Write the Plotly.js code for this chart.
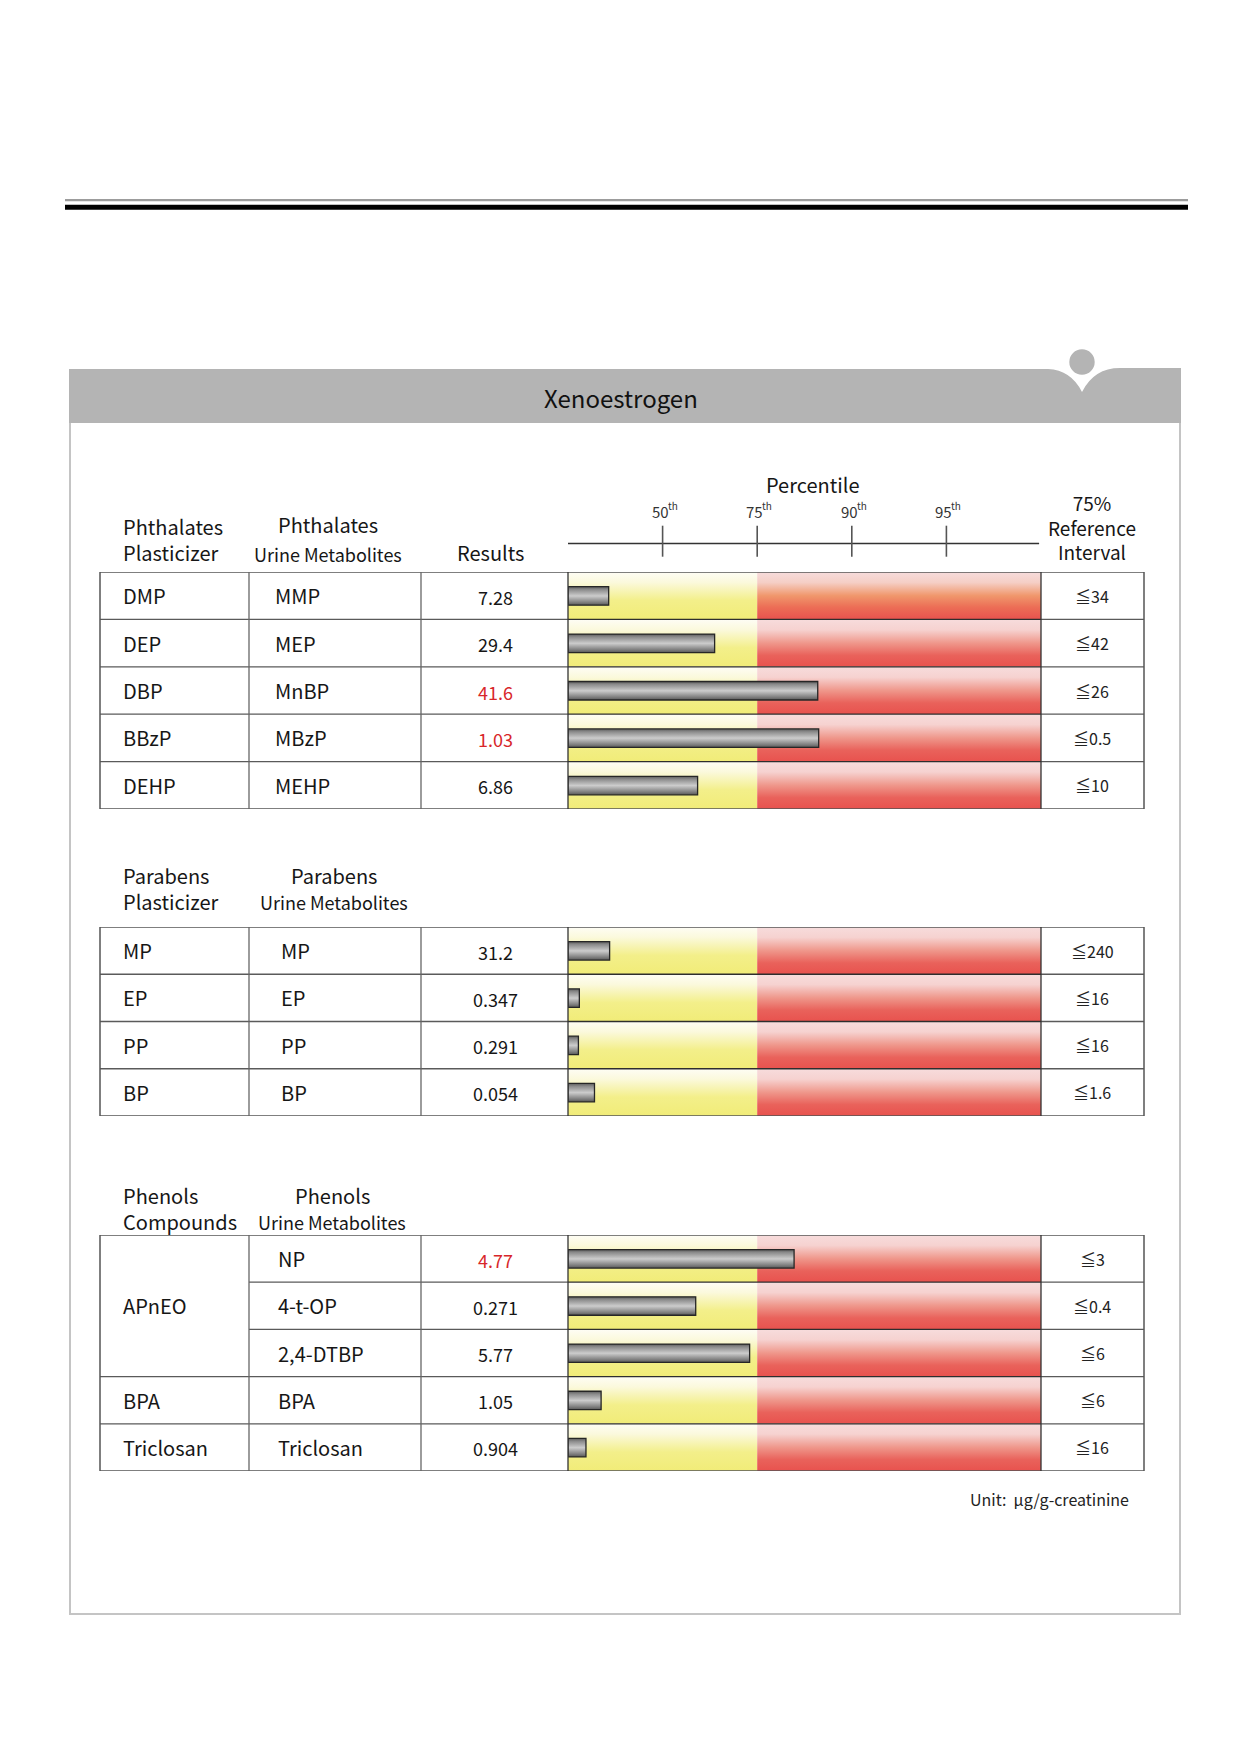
<!DOCTYPE html>
<html>
<head>
<meta charset="utf-8">
<script src="https://cdn.plot.ly/plotly-3.0.1.min.js"></script>
<style>html,body{margin:0;padding:0;background:#fff}#chart{width:1241px;height:1755px}</style>
</head>
<body>
<div id="chart"></div>
<script>
// ================= DATA =================
const chartTitle = 'Xenoestrogen';
const unitText = 'Unit:  μg/g-creatinine';
const percentileTitle = 'Percentile';
const percentileTickVals = [1, 2, 3, 4];
const percentileTickText = ['50', '75', '90', '95'];
const percentileSuffix = 'th';
const zoneEdges = [0, 2, 5];            // yellow below 75th, red from 75th
const refHeader = '75%<br>Reference<br>Interval';
const resultsHeader = 'Results';

// Phthalates
const phthParentHeader = 'Phthalates<br>Plasticizer';
const phthMetabHeader = ['Phthalates', 'Urine Metabolites'];
const phthParents = ['DMP', 'DEP', 'DBP', 'BBzP', 'DEHP'];
const phthMetabolites = ['MMP', 'MEP', 'MnBP', 'MBzP', 'MEHP'];
const phthResults = [7.28, 29.4, 41.6, 1.03, 6.86];
const phthRefs = [34, 42, 26, 0.5, 10];
const phthScores = [0.43, 1.55, 2.64, 2.65, 1.37];

// Parabens
const parabParentHeader = 'Parabens<br>Plasticizer';
const parabMetabHeader = ['Parabens', 'Urine Metabolites'];
const parabParents = ['MP', 'EP', 'PP', 'BP'];
const parabMetabolites = ['MP', 'EP', 'PP', 'BP'];
const parabResults = [31.2, 0.347, 0.291, 0.054];
const parabRefs = [240, 16, 16, 1.6];
const parabScores = [0.44, 0.12, 0.11, 0.28];

// Phenols
const phenParentHeader = 'Phenols<br>Compounds';
const phenMetabHeader = ['Phenols', 'Urine Metabolites'];
const phenParents = ['APnEO', 'APnEO', 'APnEO', 'BPA', 'Triclosan'];
const phenMetabolites = ['NP', '4-t-OP', '2,4-DTBP', 'BPA', 'Triclosan'];
const phenResults = [4.77, 0.271, 5.77, 1.05, 0.904];
const phenRefs = [3, 0.4, 6, 6, 16];
const phenScores = [2.39, 1.35, 1.92, 0.35, 0.19];

// ================= LAYOUT HELPERS =================
const W = 1241, H = 1755;
const X = px => px / W;
const Y = py => 1 - py / H;
const FONT = '"Noto Sans CJK KR", "Noto Sans", sans-serif';
const TXT = '#161616';
const colEdges = [100, 249, 421, 568, 1041, 1144];

const yellowScale = [[0, '#fefdf5'], [0.22, '#fbf9dc'], [0.6, '#f3ef8a'], [1, '#f1ec78']];
const redScale = [[0, '#f7dcdc'], [0.22, '#f6d2d0'], [0.5, '#ef978b'], [0.76, '#e9625b'], [1, '#e8524e']];
const redScaleWarm = [[0, '#f7dcdc'], [0.22, '#f5cfc6'], [0.5, '#f0976c'], [0.74, '#ec6e56'], [1, '#e8524e']];
const barScale = [[0, '#5c5c5c'], [0.15, '#8a8a8a'], [0.5, '#cccccc'], [0.85, '#7e7e7e'], [1, '#585858']];

const tables = [
  {ax: 'y', axKey: 'yaxis', top: 572, bottom: 809, metX: 273,
   parents: phthParents, metabs: phthMetabolites, results: phthResults, refs: phthRefs, scores: phthScores,
   pHead: phthParentHeader, pHeadY: 539, mHead: phthMetabHeader, mHeadX: 328, mHeadY: [524, 554], resHeadY: 552, warmFirst: true},
  {ax: 'y2', axKey: 'yaxis2', top: 927, bottom: 1116, metX: 279,
   parents: parabParents, metabs: parabMetabolites, results: parabResults, refs: parabRefs, scores: parabScores,
   pHead: parabParentHeader, pHeadY: 888, mHead: parabMetabHeader, mHeadX: 334, mHeadY: [875, 902]},
  {ax: 'y3', axKey: 'yaxis3', top: 1235, bottom: 1471, metX: 276,
   parents: phenParents, metabs: phenMetabolites, results: phenResults, refs: phenRefs, scores: phenScores,
   pHead: phenParentHeader, pHeadY: 1208, mHead: phenMetabHeader, mHeadX: 332, mHeadY: [1195, 1222]}
];

const traces = [];
const shapes = [];
const annotations = [];
const layout = {
  width: W, height: H, margin: {l: 0, r: 0, t: 0, b: 0},
  paper_bgcolor: '#ffffff', plot_bgcolor: 'rgba(0,0,0,0)', showlegend: false,
  font: {family: FONT, color: TXT},
  xaxis: {domain: [X(568), X(1041)], range: [0, 5], visible: false, fixedrange: true}
};

function ann(o) {
  annotations.push(Object.assign({showarrow: false, xref: 'paper', yref: 'paper', xanchor: 'center', yanchor: 'middle'}, o,
    {font: Object.assign({family: FONT, color: TXT}, o.font || {})}));
}
function hline(x0, x1, y, yref, color, width) {
  shapes.push({type: 'line', xref: 'paper', yref: yref, x0: X(x0), x1: X(x1), y0: y, y1: y,
    line: {color: color, width: width}});
}

// ---- top double rule ----
shapes.push({type: 'line', xref: 'paper', yref: 'paper', x0: X(65), x1: X(1188), y0: Y(200.2), y1: Y(200.2), line: {color: '#9c9c9c', width: 2.2}});
shapes.push({type: 'line', xref: 'paper', yref: 'paper', x0: X(65), x1: X(1188), y0: Y(207.3), y1: Y(207.3), line: {color: '#000000', width: 5}});

// ---- panel ----
const P = (x, y) => X(x).toFixed(5) + ',' + Y(y).toFixed(5);
shapes.push({type: 'path', xref: 'paper', yref: 'paper', layer: 'below',
  path: 'M' + P(69, 369) + ' L' + P(1048, 369) + ' Q' + P(1071, 370) + ' ' + P(1082, 392) +
        ' Q' + P(1094, 368) + ' ' + P(1120, 368) + ' L' + P(1181, 368) + ' L' + P(1181, 423) + ' L' + P(69, 423) + ' Z',
  fillcolor: '#b4b4b4', line: {width: 0}});
shapes.push({type: 'circle', xref: 'paper', yref: 'paper', layer: 'below',
  x0: X(1082 - 12.7), x1: X(1082 + 12.7), y0: Y(362 - 12.7), y1: Y(362 + 12.7), fillcolor: '#b4b4b4', line: {width: 0}});
shapes.push({type: 'path', xref: 'paper', yref: 'paper', layer: 'below',
  path: 'M' + P(70, 423) + ' L' + P(70, 1614) + ' L' + P(1180, 1614) + ' L' + P(1180, 423),
  line: {color: '#c4c4c4', width: 2}});
ann({x: X(621), y: Y(397), text: chartTitle, font: {size: 24, color: '#111'}});

// ---- percentile axis ----
const axisY = 543.5;
shapes.push({type: 'line', xref: 'x', yref: 'paper', x0: zoneEdges[0], x1: zoneEdges[zoneEdges.length - 1] - 0.02,
  y0: Y(axisY), y1: Y(axisY), line: {color: '#333', width: 1.3}});
percentileTickVals.forEach((v, k) => {
  shapes.push({type: 'line', xref: 'x', yref: 'paper', x0: v, x1: v, y0: Y(525.7), y1: Y(556.7),
    line: {color: '#555', width: 1.6}});
  ann({x: v, xref: 'x', xanchor: 'right', xshift: 8, y: Y(512), text: percentileTickText[k], font: {size: 15, color: '#333'}});
  ann({x: v, xref: 'x', xanchor: 'left', xshift: 3, y: Y(505), text: percentileSuffix, font: {size: 10, color: '#333'}});
});
ann({x: 2, xref: 'x', xshift: 56, y: Y(484), text: percentileTitle, font: {size: 20}});
ann({x: X(1092), y: Y(527), text: refHeader, font: {size: 19}});

// ---- tables ----
tables.forEach((t, ti) => {
  const n = t.parents.length;
  layout[t.axKey] = {domain: [Y(t.bottom), Y(t.top)], range: [n - 0.5, -0.5], visible: false, fixedrange: true};

  // headers
  ann({x: X(121), xanchor: 'left', align: 'left', y: Y(t.pHeadY), text: t.pHead, font: {size: 20}});
  ann({x: X(t.mHeadX), y: Y(t.mHeadY[0]), text: t.mHead[0], font: {size: 20}});
  ann({x: X(t.mHeadX), y: Y(t.mHeadY[1]), text: t.mHead[1], font: {size: 18}});
  if (t.resHeadY) ann({x: X(490), y: Y(t.resHeadY), text: resultsHeader, font: {size: 20}});

  for (let i = 0; i < n; i++) {
    const y0 = i - 0.5, y1 = i + 0.5;
    // yellow zone
    traces.push({type: 'scatter', mode: 'lines', xaxis: 'x', yaxis: t.ax, hoverinfo: 'skip',
      x: [zoneEdges[0], zoneEdges[1], zoneEdges[1], zoneEdges[0], zoneEdges[0]],
      y: [y0, y0, y1, y1, y0], fill: 'toself', line: {width: 0, color: 'rgba(0,0,0,0)'},
      fillgradient: {type: 'vertical', start: y0, stop: y1, colorscale: yellowScale}});
    // red zone
    traces.push({type: 'scatter', mode: 'lines', xaxis: 'x', yaxis: t.ax, hoverinfo: 'skip',
      x: [zoneEdges[1], zoneEdges[2], zoneEdges[2], zoneEdges[1], zoneEdges[1]],
      y: [y0, y0, y1, y1, y0], fill: 'toself', line: {width: 0, color: 'rgba(0,0,0,0)'},
      fillgradient: {type: 'vertical', start: y0, stop: y1, colorscale: (t.warmFirst && i === 0) ? redScaleWarm : redScale}});
    // result bar
    const b0 = i - 0.19, b1 = i + 0.2;
    traces.push({type: 'scatter', mode: 'lines', xaxis: 'x', yaxis: t.ax, hoverinfo: 'skip',
      x: [0, t.scores[i], t.scores[i], 0, 0], y: [b0, b0, b1, b1, b0], fill: 'toself',
      line: {width: 1.3, color: '#262626'},
      fillgradient: {type: 'vertical', start: b0, stop: b1, colorscale: barScale}});

    // texts
    ann({x: X(t.metX), xanchor: 'left', y: i, yref: t.ax, text: t.metabs[i], font: {size: 20}});
    const high = t.results[i] > t.refs[i];
    ann({x: X(495), y: i, yshift: -1, yref: t.ax, text: String(t.results[i]), font: {size: 18, color: high ? '#d8262a' : TXT}});
    ann({x: X(1092), y: i, yref: t.ax, text: '≦' + t.refs[i], font: {size: 16, color: '#222'}});

    // row separators
    if (i > 0) {
      const merged = t.parents[i] === t.parents[i - 1];
      hline(merged ? colEdges[1] : colEdges[0], colEdges[3], y0, t.ax, '#5a5a5a', 1.3);
      hline(colEdges[3], colEdges[4], y0, t.ax, '#2e2e2e', 1.3);
      hline(colEdges[4], colEdges[5], y0, t.ax, '#5a5a5a', 1.3);
    }
  }
  // parent labels (merged groups)
  let s = 0;
  for (let i = 1; i <= n; i++) {
    if (i === n || t.parents[i] !== t.parents[s]) {
      ann({x: X(121), xanchor: 'left', y: (s + i - 1) / 2, yref: t.ax, text: t.parents[s], font: {size: 20}});
      s = i;
    }
  }
  // outer border + column lines
  shapes.push({type: 'rect', xref: 'paper', yref: t.ax, x0: X(colEdges[0]), x1: X(colEdges[5]), y0: -0.5, y1: n - 0.5,
    line: {color: '#555', width: 1.5}});
  colEdges.slice(1, 5).forEach((c, k) => {
    shapes.push({type: 'line', xref: 'paper', yref: t.ax, x0: X(c), x1: X(c), y0: -0.5, y1: n - 0.5,
      line: {color: (k >= 2) ? '#333' : '#666', width: 1.3}});
  });
});

ann({x: X(1131), xanchor: 'right', y: Y(1499), text: unitText, font: {size: 16, color: '#222'}});

layout.shapes = shapes;
layout.annotations = annotations;
Plotly.newPlot('chart', traces, layout, {staticPlot: true, displayModeBar: false});
</script>
</body>
</html>
